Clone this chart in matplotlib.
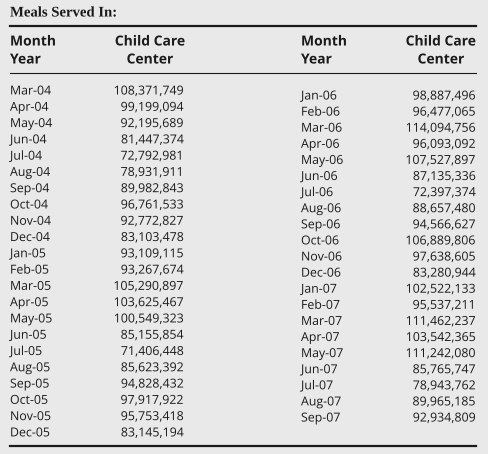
import matplotlib.pyplot as plt
import matplotlib.patheffects as pe

months_left = ['Mar-04', 'Apr-04', 'May-04', 'Jun-04', 'Jul-04', 'Aug-04', 'Sep-04',
               'Oct-04', 'Nov-04', 'Dec-04', 'Jan-05', 'Feb-05', 'Mar-05', 'Apr-05',
               'May-05', 'Jun-05', 'Jul-05', 'Aug-05', 'Sep-05', 'Oct-05', 'Nov-05', 'Dec-05']
meals_left = [108371749, 99199094, 92195689, 81447374, 72792981, 78931911, 89982843,
              96761533, 92772827, 83103478, 93109115, 93267674, 105290897, 103625467,
              100549323, 85155854, 71406448, 85623392, 94828432, 97917922, 95753418, 83145194]
months_right = ['Jan-06', 'Feb-06', 'Mar-06', 'Apr-06', 'May-06', 'Jun-06', 'Jul-06',
                'Aug-06', 'Sep-06', 'Oct-06', 'Nov-06', 'Dec-06', 'Jan-07', 'Feb-07',
                'Mar-07', 'Apr-07', 'May-07', 'Jun-07', 'Jul-07', 'Aug-07', 'Sep-07']
meals_right = [98887496, 96477065, 114094756, 96093092, 107527897, 87135336, 72397374,
               88657480, 94566627, 106889806, 97638605, 83280944, 102522133, 95537211,
               111462237, 103542365, 111242080, 85765747, 78943762, 89965185, 92934809]

W, H = 488, 454
fig = plt.figure(figsize=(W / 100, H / 100), dpi=100, facecolor='#e9e9e9')
ax = fig.add_axes([0, 0, 1, 1])
ax.set_xlim(0, W)
ax.set_ylim(H, 0)
ax.axis('off')

sans = 'Open Sans'
ink = '#1a1a1a'
# draw text as paths so the baselines don't jitter by a pixel
flat = [pe.Normal()]

ax.text(10, 16.5, 'Meals Served In:', family='Liberation Serif', weight='bold',
        fontsize=10.6, va='baseline', ha='left', color=ink, path_effects=flat)

# rules
ax.plot([10, 476], [25.5, 25.5], color=ink, lw=1.6)
ax.plot([10, 476], [73, 73], color=ink, lw=0.8)
ax.plot([10, 476], [445.5, 445.5], color=ink, lw=1.6)

hdr = dict(family=sans, weight='bold', fontsize=10, va='baseline', color=ink,
           path_effects=flat)
ax.text(10, 45.5, 'Month', ha='left', **hdr)
ax.text(10, 63.5, 'Year', ha='left', **hdr)
ax.text(150, 45.5, 'Child Care', ha='center', **hdr)
ax.text(150, 63.5, 'Center', ha='center', **hdr)
ax.text(301, 45.5, 'Month', ha='left', **hdr)
ax.text(301, 63.5, 'Year', ha='left', **hdr)
ax.text(476, 45.5, 'Child Care', ha='right', **hdr)
ax.text(441, 63.5, 'Center', ha='center', **hdr)

row = dict(family=sans, fontsize=8.9, va='baseline', color=ink, path_effects=flat)
for i, (m, v) in enumerate(zip(months_left, meals_left)):
    y = 94.5 + i * 16.28
    ax.text(10, y, m, ha='left', **row)
    ax.text(184, y, f'{v:,}', ha='right', **row)
for i, (m, v) in enumerate(zip(months_right, meals_right)):
    y = 99.5 + i * 16.1
    ax.text(301, y, m, ha='left', **row)
    ax.text(476, y, f'{v:,}', ha='right', **row)

fig.savefig('out.png', dpi=100, facecolor=fig.get_facecolor())
